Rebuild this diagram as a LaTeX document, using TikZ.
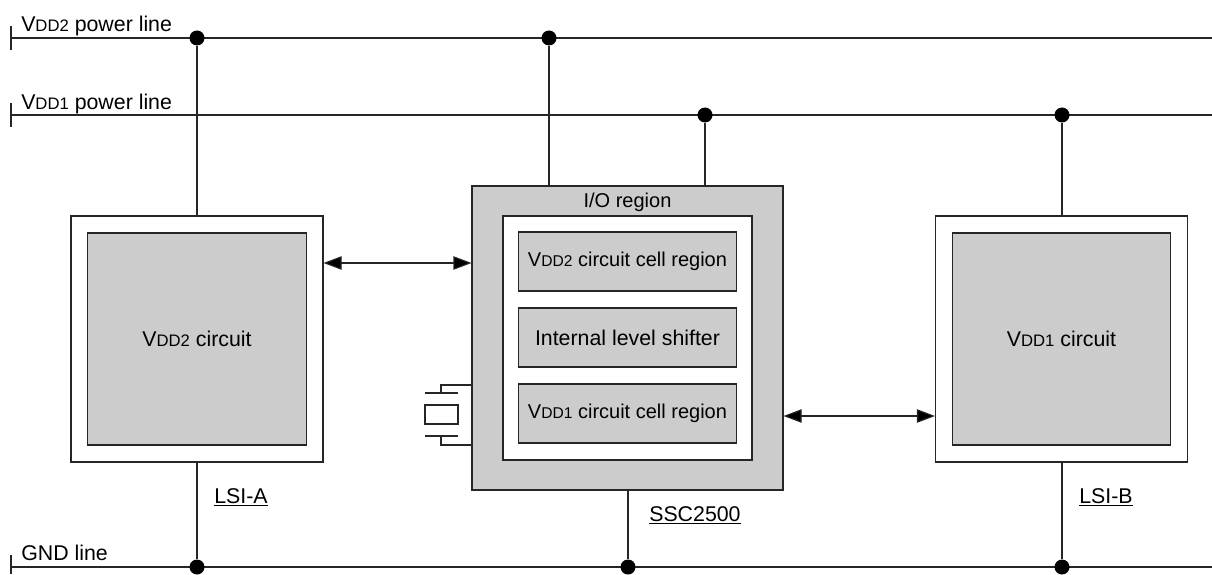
\documentclass[tikz,border=0pt]{standalone}
\usepackage{fontspec}
\setmainfont{Liberation Sans}
\newcommand{\vdd}[1]{V{\fontsize{12.5}{15}\selectfont DD#1}}
\newcommand{\vddcell}[1]{V{\fontsize{11.7}{15}\selectfont DD#1}}
\tikzset{
  box/.style     = {shape=rectangle, draw=black!85, line width=0.8pt, inner sep=0pt, align=center},
  lsi/.style     = {box, fill=white, minimum width=189pt, minimum height=184.5pt},
  core/.style    = {box, fill=black!20, minimum width=164pt, minimum height=159pt},
  cell/.style    = {box, fill=black!20, minimum width=163pt, minimum height=44.25pt},
  dot/.style     = {circle, fill=black, inner sep=0pt, minimum size=11.25pt},
  lbl/.style     = {inner sep=0pt, anchor=base west},
  wire/.style    = {draw=black!85, line width=0.8pt},
  biarrow/.style = {wire, {Triangle[length=13.5pt,width=10pt,fill=black]}-{Triangle[length=13.5pt,width=10pt,fill=black]}},
  smaller/.style = {font=\fontsize{15}{18}\selectfont}
}
\usetikzlibrary{arrows.meta}
\begin{document}
\begin{tikzpicture}
  [
    x = 0.75pt,
    y = -0.75pt,
    every node/.style = {font=\fontsize{16}{18}\selectfont}
  ]
  \useasboundingbox (0,0) rectangle (1212,574);
  % boxes
  \node [lsi]  (lsiA) at (197,339) {};
  \node [core] (coreA) at (197,339) {\vdd{2} circuit};
  \node [lsi]  (lsiB) at (1061.5,339) {};
  \node [core] (coreB) at (1061.5,339) {\vdd{1} circuit};
  \node [box, fill=black!20, minimum width=233.25pt, minimum height=228pt] (ssc) at (627.5,338) {};
  \node [box, fill=white, minimum width=186.75pt, minimum height=183pt] (inner) at (627.5,338) {};
  \node [cell, smaller] (cellTwo) at (627.5,261.5) {\vddcell{2} circuit cell region};
  \node [cell] (shifter) at (627.5,337.5) {Internal level shifter};
  \node [cell, smaller] (cellOne) at (627.5,413.5) {\vddcell{1} circuit cell region};
  \node [smaller] (io) at (627.5,202) {I/O region};
  % power rails
  \node [lbl] at (21,31.5) (vddtwo) {\vdd{2} power line};
  \node [lbl] at (21,109.5) (vddone) {\vdd{1} power line};
  \node [lbl] at (21,560) (gnd) {GND line};
  \coordinate (vddtwoL) at (11,38);
  \coordinate (vddtwoR) at (1212,38);
  \coordinate (vddoneL) at (11,115);
  \coordinate (vddoneR) at (1212,115);
  \coordinate (gndL) at (11,567);
  \coordinate (gndR) at (1212,567);
  \draw [wire] (vddtwoL) -- (vddtwoR);
  \draw [wire] (vddoneL) -- (vddoneR);
  \draw [wire] (gndL) -- (gndR);
  \draw [wire] (11,26) -- (vddtwoL) -- (11,50);
  \draw [wire] (11,103) -- (vddoneL) -- (11,127);
  \draw [wire] (11,555) -- (gndL) -- (11,574);
  % junctions
  \node [dot] (j1) at (197,38) {};
  \node [dot] (j2) at (549,38) {};
  \node [dot] (j3) at (705,115) {};
  \node [dot] (j4) at (1062,115) {};
  \node [dot] (j5) at (197,567) {};
  \node [dot] (j6) at (628,567) {};
  \node [dot] (j7) at (1062,567) {};
  \draw [wire] (j1) -- (j1 |- lsiA.north);
  \draw [wire] (j2) -- (j2 |- ssc.north);
  \draw [wire] (j3) -- (j3 |- ssc.north);
  \draw [wire] (j4) -- (j4 |- lsiB.north);
  \draw [wire] (j5) -- (j5 |- lsiA.south);
  \draw [wire] (j6) -- (j6 |- ssc.south);
  \draw [wire] (j7) -- (j7 |- lsiB.south);
  % signals
  \coordinate (sigA) at (323,263);
  \coordinate (sigB) at (783,416);
  \draw [biarrow] (sigA -| lsiA.east) -- (sigA -| ssc.west);
  \draw [biarrow] (sigB -| ssc.east) -- (sigB -| lsiB.west);
  % crystal
  \node [box, fill=white, minimum width=24.75pt, minimum height=14.25pt] (xtal) at (441.5,414.5) {};
  \coordinate (xtalT) at (441,393);
  \coordinate (xtalB) at (441,436);
  \draw [wire] (425,393) -- (458,393);
  \draw [wire] (425,436) -- (458,436);
  \draw [wire] (xtalT) |- (ssc.west |- 0,385);
  \draw [wire] (xtalB) |- (ssc.west |- 0,445);
  % names
  \node [lbl] (nameA) at (214,503) {\underline{LSI-A}};
  \node [lbl] (nameS) at (649,521) {\underline{SSC2500}};
  \node [lbl] (nameB) at (1079,503) {\underline{LSI-B}};
\end{tikzpicture}
\end{document}
